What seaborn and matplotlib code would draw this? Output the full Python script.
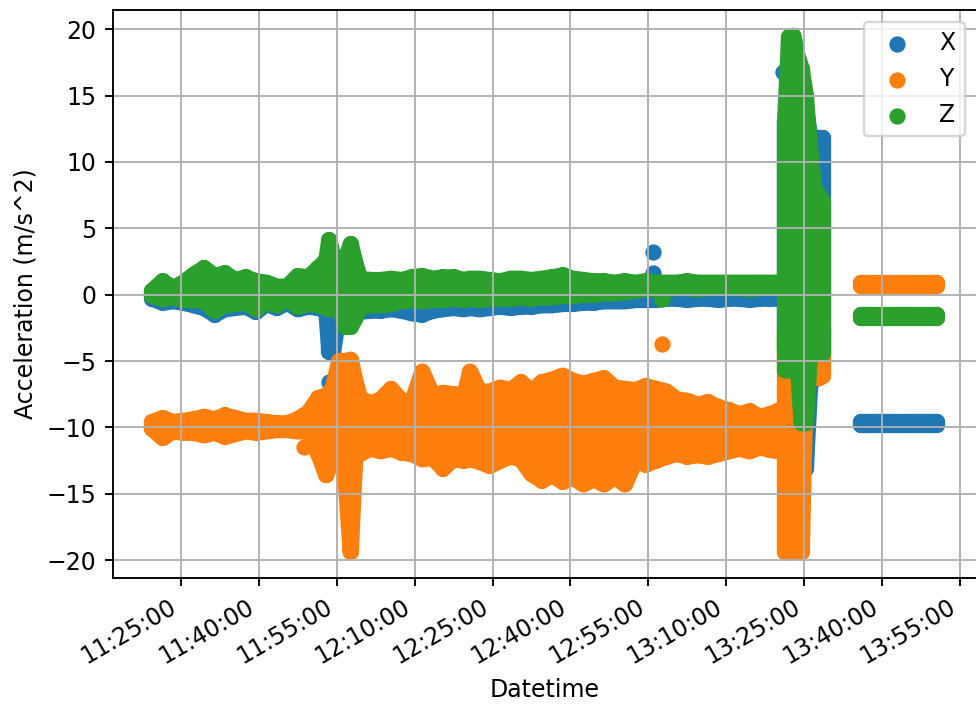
import pandas as pd
import matplotlib
matplotlib.use("Agg")
import matplotlib.pyplot as plt
import matplotlib.dates as mdates
import seaborn as sns

# Zeitpunkte (Minuten nach 11:00) und Min/Max je Achse
minutes = [
    # 11:19 - 11:58
    19.5, 21.5, 23.5, 25.5, 27.5, 29.5, 31.5, 33.5, 35.5, 37.5, 39.5, 41.5,
    43.5, 45.5, 47.5, 49.5, 51.5, 53.0, 53.6, 54.3, 55.5, 56.7, 57.7, 58.6,
    # 11:59 - 13:20
    59.5, 61.5, 63.5, 65.5, 67.5, 69.5, 71.5, 73.5, 75.5, 77.5, 79.5, 80.7,
    82.5, 84.5, 86.5, 88.5, 90.5, 92.5, 94.5, 96.5, 98.5, 100.5, 102.5, 104.5,
    106.5, 108.5, 110.5, 112.5, 114.5, 116.5, 118.5, 120.5, 122.5, 124.5,
    126.5, 128.5, 130.5, 132.5, 134.5, 136.5, 138.5, 140.3,
    # 13:21 - 13:29
    141.3, 142.1, 142.9, 143.7, 144.5, 145.3, 146.1, 146.9, 147.8, 148.6,
    # 13:36 - 13:51
    155.9, 157.8, 159.7, 161.6, 163.5, 165.4, 167.3, 169.2, 170.6,
]
# hier beginnt jeweils ein neuer zusammenhaengender Abschnitt
abschnitt_start = [141.3, 155.9]

x_low = [
    -0.3, -0.6, -0.5, -0.6, -0.8, -1.0, -1.5, -1.1, -1.0, -0.9, -1.3, -0.7,
    -1.0, -0.6, -1.1, -0.9, -1.0, -1.2, -4.3, -4.3, -1.3, -1.4, -1.5, -1.4,
    -1.3, -1.2, -1.2, -1.1, -1.2, -1.4, -1.5, -1.2, -1.1, -1.0, -1.1, -1.0,
    -1.1, -1.0, -0.9, -1.0, -0.9, -0.9, -0.8, -0.8, -0.7, -0.7, -0.6, -0.6,
    -0.5, -0.5, -0.5, -0.4, -0.4, -0.4, -0.3, -0.3, -0.4, -0.3,
    -0.3, -0.4, -0.3, -0.3, -0.4, -0.3, -0.3, -0.3,
    -4.0, -4.0, -5.0, -6.0, -8.0, -13.1, -7.0, -6.0, -6.0, -5.0,
    -9.8, -9.8, -9.8, -9.8, -9.8, -9.8, -9.8, -9.8, -9.8,
]
x_high = [
    0.1, 0.6, 0.3, 0.6, 1.0, 1.6, 1.0, 1.2, 0.8, 1.0, 0.7, 0.6,
    0.3, 0.3, 1.1, 1.0, 1.6, 2.2, 2.0, 2.0, 1.8, 2.0, 3.0, 2.0,
    0.9, 0.8, 0.8, 0.9, 0.8, 0.9, 1.0, 0.8, 0.9, 0.9, 0.8, 0.8,
    0.9, 0.8, 0.8, 0.9, 0.9, 0.9, 0.9, 1.0, 1.1, 0.9, 0.8, 0.8,
    0.7, 0.7, 0.7, 0.7, 0.7, 0.7, 0.6, 0.6, 0.6, 0.6,
    0.6, 0.6, 0.6, 0.6, 0.6, 0.6, 0.6, 0.6,
    13.0, 15.0, 14.0, 14.0, 14.0, 14.0, 12.0, 11.8, 11.8, 11.8,
    -9.6, -9.6, -9.6, -9.6, -9.6, -9.6, -9.6, -9.6, -9.6,
]

y_low = [
    -10.1, -10.8, -10.3, -10.4, -10.4, -10.6, -10.4, -10.7, -10.5, -10.3, -10.4, -10.3,
    -10.2, -10.2, -10.3, -10.3, -12.0, -13.6, -12.8, -11.8, -12.4, -13.8, -19.4, -12.0,
    -12.0, -11.6, -11.8, -11.6, -11.9, -12.0, -12.4, -12.3, -13.1, -12.4, -12.5, -12.4,
    -12.6, -12.9, -12.5, -12.2, -12.4, -13.5, -14.0, -13.6, -14.1, -13.8, -14.3, -13.9,
    -14.3, -13.7, -14.3, -12.5, -12.8, -12.5, -12.2, -12.0, -12.2, -12.1,
    -12.2, -12.0, -11.8, -11.6, -11.8, -11.5, -11.7, -11.8,
    -19.4, -19.4, -19.4, -19.3, -19.4, -6.0, -6.2, -6.2, -6.3, -6.1,
    0.65, 0.65, 0.65, 0.65, 0.65, 0.65, 0.65, 0.65, 0.65,
]
y_high = [
    -9.6, -9.3, -9.6, -9.5, -9.4, -9.2, -9.4, -9.1, -9.3, -9.5, -9.5, -9.6,
    -9.7, -9.7, -9.4, -8.9, -7.8, -7.6, -7.4, -7.0, -5.0, -5.0, -4.9, -6.5,
    -7.8, -8.2, -7.9, -7.1, -8.0, -8.1, -5.8, -7.6, -7.4, -7.5, -7.7, -5.8,
    -7.3, -7.3, -7.0, -7.2, -6.6, -7.3, -6.6, -6.4, -6.1, -6.5, -6.7, -6.5,
    -6.3, -7.0, -7.1, -7.2, -6.9, -7.1, -7.3, -7.9, -8.0, -8.3,
    -8.1, -8.5, -8.7, -9.0, -8.8, -9.2, -9.0, -8.7,
    -3.0, -3.0, -3.0, -3.0, -3.0, -3.0, -2.5, -2.5, -2.5, -2.5,
    0.85, 0.85, 0.85, 0.85, 0.85, 0.85, 0.85, 0.85, 0.85,
]

z_low = [
    -0.1, -0.3, -0.2, -0.4, -0.4, -0.5, -1.2, -0.8, -0.7, -0.6, -1.1, -0.5,
    -0.8, -0.3, -0.9, -0.7, -0.8, -1.0, -1.1, -0.9, -1.0, -2.4, -2.4, -1.8,
    -0.9, -0.8, -0.8, -0.7, -0.5, -0.4, -0.5, -0.4, -0.4, -0.3, -0.4, -0.3,
    -0.4, -0.3, -0.3, -0.3, -0.2, -0.3, -0.2, -0.2, -0.1, -0.1, 0.0, 0.0,
    0.1, 0.1, 0.2, 0.3, 0.4, 0.4, 0.4, 0.5, 0.5, 0.4,
    0.5, 0.5, 0.5, 0.5, 0.4, 0.5, 0.5, 0.5,
    -5.7, -5.7, -5.5, -5.0, -9.7, -9.7, -4.4, -4.4, -4.4, -4.4,
    -1.75, -1.75, -1.75, -1.75, -1.75, -1.75, -1.75, -1.75, -1.75,
]
z_high = [
    0.3, 1.0, 0.5, 0.9, 1.5, 2.0, 1.4, 1.6, 1.1, 1.3, 1.0, 0.9,
    0.6, 0.6, 1.4, 1.3, 2.0, 2.6, 4.1, 2.9, 2.3, 2.6, 3.8, 2.4,
    1.2, 1.1, 1.1, 1.2, 1.1, 1.3, 1.4, 1.2, 1.3, 1.3, 1.1, 1.2,
    1.2, 1.1, 1.0, 1.2, 1.2, 1.1, 1.2, 1.3, 1.45, 1.2, 1.1, 1.0,
    1.0, 0.9, 1.0, 0.9, 1.0, 0.9, 0.9, 0.9, 1.0, 0.9,
    0.9, 0.9, 0.9, 0.9, 0.9, 0.9, 0.9, 0.9,
    13.0, 19.4, 19.5, 18.0, 17.0, 15.0, 11.0, 8.0, 7.5, 7.0,
    -1.55, -1.55, -1.55, -1.55, -1.55, -1.55, -1.55, -1.55, -1.55,
]

# einzelne Ausreisser
x_extra_min = [53.6, 115.8, 115.8, 141.0]
x_extra_val = [-6.6, 3.2, 1.6, 16.8]
y_extra_min = [48.8, 117.7]
y_extra_val = [-11.5, -3.7]
z_extra_min = [117.7]
z_extra_val = [-0.3]

labels = ['X', 'Y', 'Z']
farben = sns.color_palette('tab10')[:3]

start = pd.Timestamp('2023-05-01 11:00:00')


def to_num(mins):
    return mdates.date2num(start + pd.to_timedelta(mins, unit='m'))


dpi = 170
fig = plt.figure(figsize=(976 / dpi, 708 / dpi), dpi=dpi)
ax = fig.add_axes([113 / 976, 130 / 708, 863.5 / 976, 568 / 708])

punkt = 6.9  # Markerdurchmesser in pt

reihen = [
    (x_low, x_high, x_extra_min, x_extra_val),
    (y_low, y_high, y_extra_min, y_extra_val),
    (z_low, z_high, z_extra_min, z_extra_val),
]

df_all = pd.DataFrame({'min': minutes})
df_all['abschnitt'] = df_all['min'].apply(lambda m: sum(m >= s for s in abschnitt_start))
df_all['t'] = to_num(df_all['min'])

for (lo, hi, ex_m, ex_v), lab, c in zip(reihen, labels, farben):
    d = df_all.assign(lo=lo, hi=hi)
    for _, seg in d.groupby('abschnitt'):
        # dichte Punktwolke: Flaeche + dicke Raender + Saeulen mit runden Enden
        ax.fill_between(seg['t'], seg['lo'], seg['hi'], color=c, linewidth=0, zorder=1)
        for col in ['lo', 'hi']:
            sns.lineplot(x=seg['t'].values, y=seg[col].values, color=c, linewidth=punkt,
                         estimator=None, sort=False, solid_capstyle='round',
                         solid_joinstyle='round', ax=ax, zorder=1)
        ax.vlines(seg['t'], seg['lo'], seg['hi'], colors=[c], linewidth=punkt,
                  capstyle='round', zorder=1)
    sns.scatterplot(x=to_num(ex_m), y=ex_v, color=c, s=punkt ** 2,
                    linewidth=0, label=lab, ax=ax, zorder=1)

ax.xaxis.set_major_locator(mdates.MinuteLocator(byminute=[10, 25, 40, 55]))
ax.xaxis.set_major_formatter(mdates.DateFormatter('%H:%M:%S'))
plt.setp(ax.get_xticklabels(), rotation=30, ha='right')
ax.set_yticks(range(-20, 21, 5))

ax.grid(True)
ax.set_xlabel('Datetime')
ax.set_ylabel('Acceleration (m/s^2)')
ax.legend(loc='upper right')

fig.savefig('out.png', dpi=dpi)
